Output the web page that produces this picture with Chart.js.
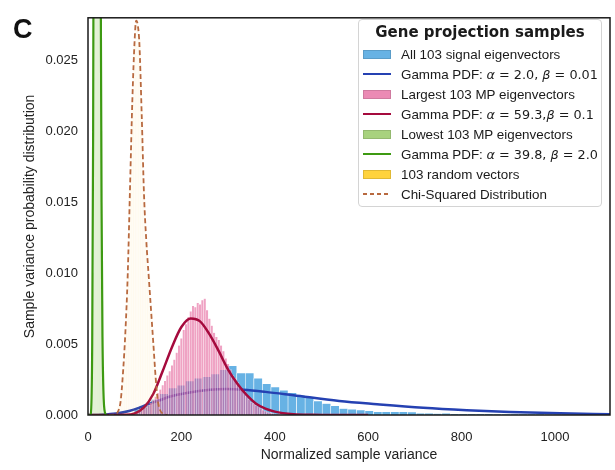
<!DOCTYPE html>
<html>
<head>
<meta charset="utf-8">
<script src="https://cdn.jsdelivr.net/npm/chart.js@4.4.0/dist/chart.umd.min.js"></script>
<style>
  body { margin: 0; background: #fff; }
  #wrap { position: relative; width: 615px; height: 470px; }
  #panel { position: absolute; left: 13px; top: 16px; font: bold 27px/27px "Liberation Sans", Arial, sans-serif; color: #111; }
  #legend { position: absolute; left: 358px; top: 19px; width: 244px; height: 188px; box-sizing: border-box;
            border: 1px solid #d4d4d4; border-radius: 4px; background: rgba(255,255,255,0.85); color: #1a1a1a;
            font-family: "Liberation Sans", Arial, sans-serif; }
  #legend .title { font: bold 15px/24px "DejaVu Sans", sans-serif; height: 24px; text-align: center; }
  #legend .row { display: flex; align-items: center; height: 20px; font-size: 13.4px; white-space: nowrap; }
  #legend .sw { width: 28px; margin-left: 4px; margin-right: 10px; box-sizing: border-box; flex: none; }
  #legend .math { font-family: "DejaVu Sans", sans-serif; font-size: 12.8px; }
</style>
</head>
<body>
<div id="wrap">
  <canvas id="myChart" width="615" height="470"></canvas>
  <div id="panel">C</div>
  <div id="legend"></div>
</div>
<script>
// tick labels
const xTickValues = [0, 200, 400, 600, 800, 1000];
const yTickValues = [0, 0.005, 0.010, 0.015, 0.020, 0.025];

// All 103 signal eigenvectors (histogram)
const blueBins = [
  108.2, 126.5, 144.8, 163.1, 181.4, 199.7, 218.0, 236.3,
  254.6, 272.9, 291.2, 309.5, 327.8, 346.1, 364.4, 382.7,
  401.0, 419.3, 437.6, 455.9, 474.2, 492.5, 510.8, 529.1,
  547.4, 565.7, 584.0, 602.3, 620.6, 638.9, 657.2, 675.5,
  693.8, 712.1, 730.4, 748.7, 767.0, 785.3, 803.6, 821.9,
  840.2, 858.5, 876.8, 895.1, 913.4, 931.7, 950.0, 968.3,
  986.6, 1004.9, 1023.2, 1041.5, 1059.8, 1078.1, 1096.4, 1114.7
];
const blueHeights = [
  0.0004, 0.0007, 0.0011, 0.0015, 0.0019, 0.0021, 0.0024, 0.0026,
  0.0027, 0.0029, 0.0032, 0.00347, 0.00297, 0.00297, 0.00259, 0.0022,
  0.00197, 0.00174, 0.00157, 0.00139, 0.00127, 0.00099, 0.00081, 0.00066,
  0.00046, 0.0004, 0.00035, 0.0003, 0.00023, 0.00023, 0.00023, 0.00023,
  0.00022, 0.00012, 0.00012, 0.0001, 0.00012, 0.00009, 0.00009, 0.00009,
  0.00008, 0.00008, 0.00007, 0.00006, 0.00006, 0.00005, 0.00005, 0.00005,
  0.00004, 0.00004, 0.00004, 0.00004, 0.00003, 0.00003, 0.00003, 0.00003
];
// Gamma PDF a=2.0, b=0.01
const blueCurveX = [0, 30, 60, 90, 111, 133, 154, 176, 211, 261, 297, 333, 380, 440, 538, 619, 718, 811, 904, 1011, 1118];
const blueCurveY = [0, 0.00002, 0.0001, 0.0003, 0.00053, 0.00081, 0.00104, 0.0013, 0.00155, 0.00178, 0.00183,
                    0.00178, 0.00163, 0.00139, 0.00099, 0.00076, 0.00051, 0.00034, 0.00021, 0.00012, 0.00006];

// Largest 103 MP eigenvectors (histogram)
const pinkBins = [
  60, 65, 70, 75, 80, 85, 90, 95, 100, 105,
  110, 115, 120, 125, 130, 135, 140, 145, 150, 155,
  160, 165, 170, 175, 180, 185, 190, 195, 200, 205,
  210, 215, 220, 225, 230, 235, 240, 245, 250, 255,
  260, 265, 270, 275, 280, 285, 290, 295, 300, 305,
  310, 315, 320, 325, 330, 335, 340, 345, 350, 355,
  360, 365, 370, 375, 380, 385, 390, 395, 400, 405,
  410, 415, 420
];
const pinkHeights = [
  0.00003, 0.00004, 0.00005, 0.00006, 0.00008, 0.0001, 0.00012, 0.00014, 0.00018, 0.00022,
  0.00028, 0.00035, 0.00045, 0.00055, 0.0007, 0.00085, 0.00105, 0.0013, 0.00155, 0.0018,
  0.0021, 0.0024, 0.0028, 0.0031, 0.0035, 0.0039, 0.0044, 0.0049, 0.0054, 0.006,
  0.0064, 0.0069, 0.0073, 0.0077, 0.0076, 0.0079, 0.0078, 0.0081, 0.0082, 0.0074,
  0.0068, 0.0063, 0.0058, 0.0055, 0.0053, 0.0049, 0.0045, 0.004, 0.0036, 0.0032,
  0.0028, 0.0026, 0.0023, 0.002, 0.0018, 0.0015, 0.0013, 0.0011, 0.0009, 0.00078,
  0.00068, 0.00058, 0.00045, 0.00035, 0.00028, 0.0002, 0.00015, 0.00012, 0.00009, 0.00007,
  0.00005, 0.00004, 0.00003
];
// Gamma PDF a=59.3, b=0.1
const redCurveX = [0, 40, 60, 80, 100, 120, 140, 160, 180, 200, 220, 240, 260, 280, 300, 320, 340, 360, 380, 400, 440, 480, 520, 560, 600];
const redCurveY = [0, 0, 0.000003, 0.000015, 0.00012, 0.00053, 0.0015, 0.0031, 0.0048, 0.0062, 0.0068, 0.0066, 0.0057,
                   0.0045, 0.0032, 0.0022, 0.0014, 0.0008, 0.00045, 0.00024, 0.00006, 0.000015, 0.000003, 0, 0];

// Lowest 103 MP eigenvectors (histogram, runs off the top)
const greenBins = [11, 13, 15, 17, 19, 21, 23, 25, 27, 29, 31];
const greenHeights = [0.01, 0.04, 0.08, 0.11, 0.13, 0.12, 0.1, 0.07, 0.04, 0.02, 0.008];
// Gamma PDF a=39.8, b=2.0
const greenCurveX = [0, 5, 7, 9, 11, 13, 15, 17, 19, 21, 23, 25, 27, 29, 31, 33, 36, 40];
const greenCurveY = [0, 0, 0.0005, 0.005, 0.02, 0.05, 0.085, 0.115, 0.126, 0.115, 0.09, 0.06, 0.033, 0.015, 0.0055, 0.0017, 0.0002, 0];

// 103 random vectors (histogram, very faint)
const yellowBins = [60, 65, 70, 75, 80, 85, 90, 95, 100, 105, 110, 115, 120, 125, 130, 135, 140, 145, 150, 155];
const yellowHeights = [0.0002, 0.0006, 0.0014, 0.0032, 0.0058, 0.0098, 0.016, 0.022, 0.0262, 0.0278,
                       0.0265, 0.0215, 0.016, 0.0122, 0.0098, 0.0072, 0.005, 0.0028, 0.001, 0.0003];
// Chi-squared distribution
const chiX = [45, 50, 55, 60, 65, 70, 75, 80, 85, 90, 95, 100, 103, 106, 110, 115, 120, 125, 130, 135, 140, 145, 150, 155, 160, 165, 170];
const chiY = [0, 0.00001, 0.00003, 0.0001, 0.0003, 0.001, 0.003, 0.0058, 0.0098, 0.016, 0.0222, 0.0265, 0.0278, 0.0276,
              0.0262, 0.0212, 0.0155, 0.0122, 0.0098, 0.0074, 0.005, 0.0026, 0.0009, 0.0003, 0.0001, 0.00003, 0];

const legendLabels = [
  'All 103 signal eigenvectors',
  'Gamma PDF: α = 2.0, β = 0.01',
  'Largest 103 MP eigenvectors',
  'Gamma PDF: α = 59.3,β = 0.1',
  'Lowest 103 MP eigenvectors',
  'Gamma PDF: α = 39.8, β = 2.0',
  '103 random vectors',
  'Chi-Squared Distribution'
];

const X_MAX = 1118;
const FONT = '"Liberation Sans", Arial, sans-serif';
Chart.defaults.font.family = FONT;
Chart.defaults.color = '#222';

const toPoints = (xs, ys) => xs.map((x, i) => ({ x: x, y: ys[i] }));

function histSet(label, xs, ys, axis, fill, edge, edgeWidth, order) {
  return {
    type: 'bar', label: label, xAxisID: axis, data: toPoints(xs, ys),
    backgroundColor: fill, borderColor: edge, borderWidth: edgeWidth, borderSkipped: 'start',
    barPercentage: 1, categoryPercentage: 1, grouped: false, order: order
  };
}
function curveSet(label, xs, ys, color, width, order, dash) {
  return {
    type: 'line', label: label, xAxisID: 'x', data: toPoints(xs, ys),
    borderColor: color, borderWidth: width, borderDash: dash || [], pointRadius: 0,
    fill: false, cubicInterpolationMode: 'monotone', order: order
  };
}

const datasets = [
  histSet(legendLabels[0], blueBins, blueHeights, 'x', 'rgba(52,152,219,0.75)', '#ffffff', 0.6, 8),
  curveSet(legendLabels[1], blueCurveX, blueCurveY, '#2541b2', 2.5, 7),
  histSet(legendLabels[2], pinkBins, pinkHeights, 'xPink', 'rgba(222,60,130,0.48)', 'rgba(255,255,255,0.55)', 0.45, 6),
  curveSet(legendLabels[3], redCurveX, redCurveY, '#a50a3d', 2.5, 5),
  histSet(legendLabels[4], greenBins, greenHeights, 'xGreen', 'rgba(110,180,40,0.12)', 'rgba(255,255,255,0)', 0, 4),
  curveSet(legendLabels[5], greenCurveX, greenCurveY, '#3d9a12', 2.2, 3),
  histSet(legendLabels[6], yellowBins, yellowHeights, 'xYellow', 'rgba(250,200,50,0.05)', 'rgba(255,255,255,0)', 0, 2),
  curveSet(legendLabels[7], chiX, chiY, '#b8693f', 1.8, 1, [5, 3])
];

const hiddenX = { type: 'linear', min: 0, max: X_MAX, display: false, offset: false };

const framePlugin = {
  id: 'frame',
  afterDatasetsDraw(chart) {
    const a = chart.chartArea;
    const c = chart.ctx;
    c.save();
    c.strokeStyle = '#1a1a1a';
    c.lineWidth = 1.5;
    c.strokeRect(a.left, a.top, a.right - a.left, a.bottom - a.top);
    c.restore();
  }
};

let ctx = document.getElementById('myChart').getContext('2d');
let myChart = new Chart(ctx, {
  type: 'bar',
  data: { datasets: datasets },
  plugins: [framePlugin],
  options: {
    responsive: false,
    animation: false,
    layout: { padding: { left: 0, top: 12, right: 5, bottom: 0 } },
    plugins: { legend: { display: false }, tooltip: { enabled: false } },
    scales: {
      x: {
        type: 'linear', min: 0, max: X_MAX, offset: false,
        afterBuildTicks: s => { s.ticks = xTickValues.map(v => ({ value: v })); },
        afterFit: s => { s.height = 55; },
        grid: { display: false, drawTicks: false, offset: false },
        border: { display: false },
        ticks: { padding: 15, maxRotation: 0, font: { size: 13 }, callback: v => String(v) },
        title: { display: true, text: 'Normalized sample variance', font: { size: 14 }, padding: { top: 0, bottom: 6 } }
      },
      xPink: hiddenX,
      xGreen: hiddenX,
      xYellow: hiddenX,
      y: {
        min: 0, max: 0.028,
        afterBuildTicks: s => { s.ticks = yTickValues.map(v => ({ value: v })); },
        afterFit: s => { s.width = 88; },
        grid: { display: false, drawTicks: false },
        border: { display: false },
        ticks: { padding: 10, font: { size: 13 }, callback: v => v.toFixed(3) },
        title: { display: true, text: 'Sample variance probability distribution', font: { size: 14 }, padding: { top: 22, bottom: 0 } }
      }
    }
  }
});

// legend box drawn in HTML from the datasets
const legendEl = document.getElementById('legend');
let html = '<div class="title">Gene projection samples</div>';
datasets.forEach((ds, i) => {
  let sw;
  if (ds.type === 'bar') {
    let col = ds.backgroundColor;
    if (i === 2) col = 'rgba(222,60,130,0.6)';
    if (i === 4) col = 'rgba(110,180,40,0.6)';
    if (i === 6) col = '#ffd33d';
    sw = '<div class="sw" style="height:9px;background:' + col + ';border:1px solid rgba(0,0,0,0.12)"></div>';
  } else if (ds.borderDash.length) {
    sw = '<div class="sw" style="height:1.5px;background:repeating-linear-gradient(90deg,' + ds.borderColor +
         ' 0 4px,transparent 4px 7px)"></div>';
  } else {
    sw = '<div class="sw" style="height:2px;background:' + ds.borderColor + '"></div>';
  }
  let txt = ds.label;
  const cut = txt.indexOf(': ');
  if (cut > 0) {
    const math = txt.slice(cut + 2).replace(/α/g, '<i>α</i>').replace(/β/g, '<i>β</i>');
    txt = txt.slice(0, cut + 2) + '<span class="math">' + math + '</span>';
  }
  html += '<div class="row">' + sw + '<span>' + txt + '</span></div>';
});
legendEl.innerHTML = html;
</script>
</body>
</html>
